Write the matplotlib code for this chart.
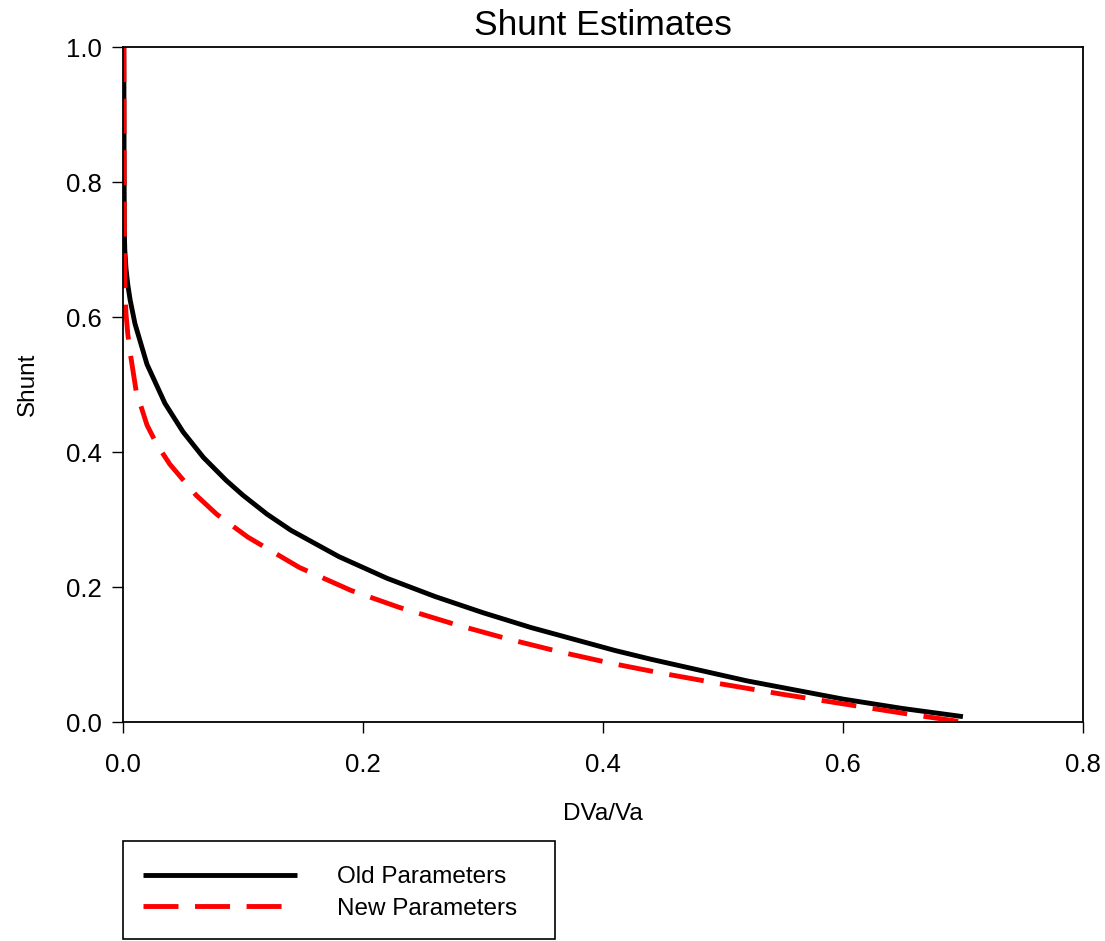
import numpy as np
import matplotlib
matplotlib.use("Agg")
import matplotlib.pyplot as plt
from matplotlib.patches import Rectangle

plt.rcParams['font.family'] = ['Liberation Sans', 'DejaVu Sans']

# shunt fraction vs DVa/Va for the two parameter sets
old_x = [0.0007, 0.0009, 0.0011, 0.0015, 0.0025, 0.0040, 0.0060, 0.0100, 0.0200,
         0.0350, 0.0500, 0.0670, 0.0860, 0.1000, 0.1200, 0.1400, 0.1800, 0.2200,
         0.2600, 0.3000, 0.3400, 0.4100, 0.4400, 0.5200, 0.6000, 0.6500, 0.7000]
old_y = [1.000, 0.850, 0.730, 0.700, 0.672, 0.648, 0.625, 0.590, 0.530,
         0.472, 0.430, 0.392, 0.358, 0.336, 0.308, 0.284, 0.245, 0.213,
         0.186, 0.162, 0.140, 0.106, 0.093, 0.061, 0.034, 0.020, 0.008]

new_x = [0.0007, 0.0010, 0.0014, 0.0025, 0.0040, 0.0060, 0.0110, 0.0200, 0.0280,
         0.0390, 0.0610, 0.0780, 0.1040, 0.1470, 0.1900, 0.2300, 0.2780, 0.3210,
         0.3640, 0.4070, 0.4500, 0.5000, 0.5500, 0.6000, 0.6500, 0.7000]
new_y = [1.000, 0.750, 0.650, 0.605, 0.575, 0.547, 0.490, 0.440, 0.412,
         0.382, 0.336, 0.308, 0.274, 0.229, 0.195, 0.170, 0.144, 0.123,
         0.104, 0.087, 0.072, 0.056, 0.041, 0.027, 0.013, 0.000]

x_ticks = [0.0, 0.2, 0.4, 0.6, 0.8]
y_ticks = [0.0, 0.2, 0.4, 0.6, 0.8, 1.0]

W, H = 1105, 941
fig = plt.figure(figsize=(W / 100, H / 100), dpi=100)
ax = fig.add_axes([0.1113, 0.2327, 0.8687, 0.7173])

ax.plot(old_x, old_y, color='black', lw=3.5, label='Old Parameters',
        solid_capstyle='butt', solid_joinstyle='round')
ax.plot(new_x, new_y, color='red', lw=3.5, dashes=(7.2, 3.4),
        label='New Parameters', dash_capstyle='butt', dash_joinstyle='round')

ax.set_xlim(0, 0.8)
ax.set_ylim(0, 1.0)
ax.set_xticks(x_ticks)
ax.set_yticks(y_ticks)
ax.set_xticklabels(['%.1f' % v for v in x_ticks])
ax.set_yticklabels(['%.1f' % v for v in y_ticks])
ax.tick_params(direction='out', length=8, width=1.0, labelsize=18.5)
ax.tick_params(axis='x', pad=14)
ax.tick_params(axis='y', pad=7)
for s in ax.spines.values():
    s.set_linewidth(1.3)

ax.set_title('Shunt Estimates', fontsize=25.5, pad=9)
ax.set_xlabel('DVa/Va', fontsize=17.5, labelpad=19)
ax.set_ylabel('Shunt', fontsize=17.5, labelpad=20)

# legend box below the plot, drawn as a separate frame
leg = ax.legend(loc='upper left', bbox_to_anchor=(143 / W, 1 - 866 / H),
                bbox_transform=fig.transFigure, borderaxespad=0, borderpad=0,
                fontsize=17.5, frameon=False,
                handlelength=6.34, handletextpad=1.65, labelspacing=0.4)
fig.patches.append(Rectangle((123 / W, 1 - 939 / H), 432 / W, 98 / H,
                             transform=fig.transFigure, fill=False,
                             edgecolor='black', linewidth=1.2))

fig.savefig('out.png', dpi=100)
